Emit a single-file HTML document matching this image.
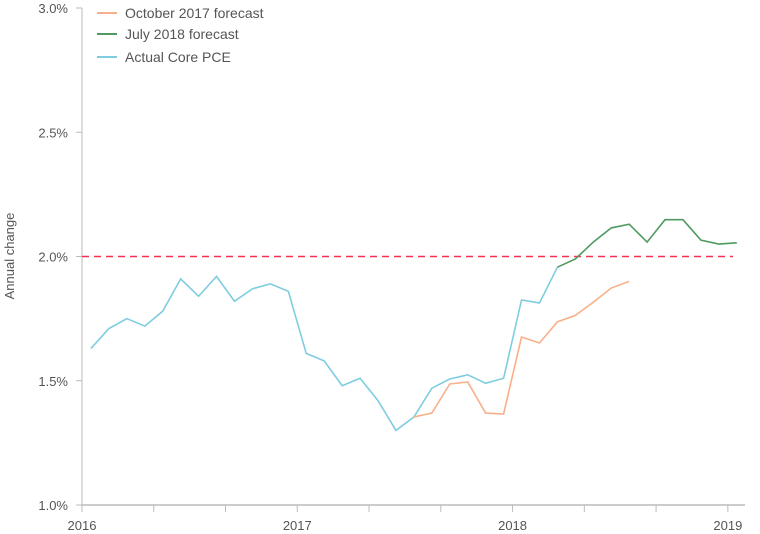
<!DOCTYPE html>
<html><head><meta charset="utf-8"><style>
body{margin:0;background:#fff;}
svg{display:block;font-family:"Liberation Sans",sans-serif;}
</style></head><body>
<svg id="chart" width="760" height="534">
<g id="axes"></g><g id="series"></g>
<g font-size="14" fill="#555">
<line x1="97" y1="13" x2="117" y2="13" stroke="#f8b08a" stroke-width="2"/><text x="125" y="18">October 2017 forecast</text>
<line x1="97" y1="34" x2="117" y2="34" stroke="#4f9a5f" stroke-width="2"/><text x="125" y="39">July 2018 forecast</text>
<line x1="97" y1="57" x2="117" y2="57" stroke="#7ecde0" stroke-width="2"/><text x="125" y="62">Actual Core PCE</text>
</g>
<text x="14" y="256" transform="rotate(-90 14 256)" text-anchor="middle" font-size="13" fill="#555">Annual change</text>
</svg>
<script>
const yTicks=[1.0,1.5,2.0,2.5,3.0];
const xYears=["2016","2017","2018","2019"];
const actual=[1.63,1.71,1.75,1.72,1.78,1.91,1.84,1.92,1.82,1.87,1.89,1.86,1.61,1.58,1.48,1.51,1.42,1.30,1.354,1.47,1.507,1.524,1.49,1.51,1.825,1.813,1.957];
const octStart=18;
const oct2017=[1.354,1.37,1.487,1.495,1.37,1.366,1.676,1.652,1.737,1.763,1.816,1.873,1.90];
const julStart=26;
const jul2018=[1.957,1.99,2.058,2.115,2.13,2.058,2.148,2.148,2.066,2.05,2.055];
const target=2.0;
const NS='http://www.w3.org/2000/svg';
const X0=82,MW=17.94,Y0=505,YS=248.5;
function xs(i){return X0+(i+0.5)*MW;}
function ys(v){return Y0-(v-1)*YS;}
const axes=document.getElementById('axes'),series=document.getElementById('series');
function mk(tag,attrs,parent){const e=document.createElementNS(NS,tag);for(const k in attrs)e.setAttribute(k,attrs[k]);parent.appendChild(e);return e;}
let l=mk('line',{x1:X0,y1:8,x2:X0,y2:Y0,stroke:'#bbb'},axes);


l=mk('line',{x1:X0,y1:Y0,x2:745,y2:Y0,stroke:'#bbb','stroke-width':1.5},axes);


yTicks.forEach(v=>{
 const y=ys(v);
 mk('line',{x1:X0-6,y1:y,x2:X0,y2:y,stroke:'#bbb'},axes);
 const t=mk('text',{x:X0-14,y:y+5,'text-anchor':'end','font-size':13,fill:'#555'},axes);
 t.textContent=v.toFixed(1)+'%';
 
 
});
for(let k=0;k<=9;k++){const x=X0+k*4*MW;mk('line',{x1:x,y1:Y0,x2:x,y2:Y0+7,stroke:'#bbb'},axes);}
xYears.forEach((yr,k)=>{
 const t=mk('text',{x:X0+k*12*MW,y:530,'text-anchor':'middle','font-size':13,fill:'#555'},axes);
 t.textContent=yr;
 
 
});
l=mk('line',{x1:X0,y1:ys(target),x2:733,y2:ys(target),stroke:'#f0344f','stroke-width':1.5,'stroke-dasharray':'7,5'},series);


function line(arr,start,color,name){
 const p=mk('polyline',{points:arr.map((v,i)=>xs(start+i)+','+ys(v)).join(' '),fill:'none',stroke:color,'stroke-width':1.6},series);
 
 
}
line(actual,0,'#7ecde0','actual-core-pce-line');
line(oct2017,octStart,'#f8b08a','october-2017-forecast-line');
line(jul2018,julStart,'#4f9a5f','july-2018-forecast-line');
</script>
</body></html>
